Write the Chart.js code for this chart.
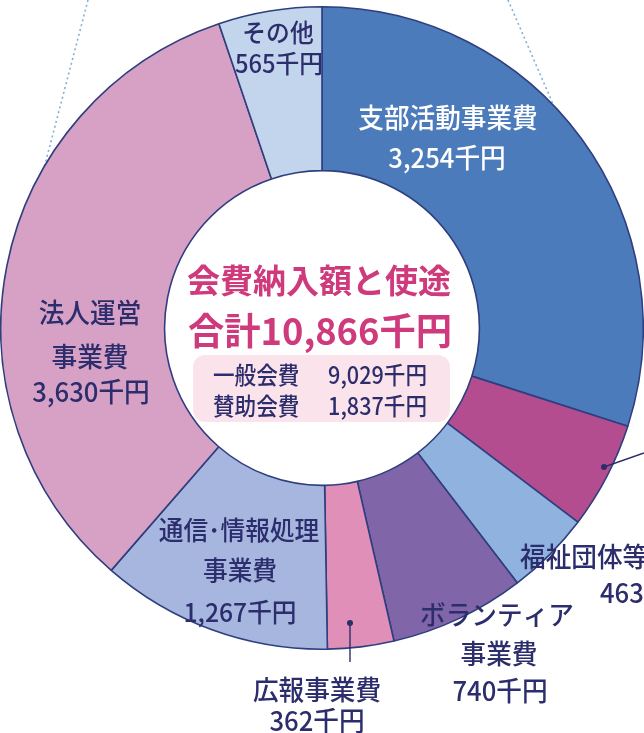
<!DOCTYPE html>
<html lang="ja">
<head>
<meta charset="utf-8">
<script src="https://cdn.jsdelivr.net/npm/chart.js@4"></script>
<style>
  html, body { margin: 0; padding: 0; background: #fff; }
  #wrap { position: relative; width: 644px; height: 733px; }
</style>
</head>
<body>
<div id="wrap">
  <canvas id="usageChart"></canvas>
</div>

<script>
  // slices clockwise from 12 o'clock
  const categories = ['支部活動事業費', '（図外）', '福祉団体等', 'ボランティア事業費', '広報事業費', '通信・情報処理事業費', '法人運営事業費', 'その他'];
  const amounts = [3254, 585, 463, 740, 362, 1267, 3630, 565];
  const sliceColors = ['#4c7bbb', '#b44d8f', '#8fb2de', '#8065a9', '#e08fb9', '#a7b6de', '#d7a1c5', '#c3d5ec'];

  // centre block
  const centerTitle = '会費納入額と使途';
  const totalAmount = 10866;
  const feeNames = ['一般会費', '賛助会費'];
  const feeAmounts = [9029, 1837];

  const yen = v => v.toLocaleString('en-US') + '千円';

  // label lines per slice (null = no label visible), offsets from chart centre
  const labelLines = [
    ['支部活動事業費', '#VAL'],
    null,
    ['福祉団体等', '463千円'],
    ['ボランティア', '事業費', '#VAL'],
    ['広報事業費', '#VAL'],
    ['通信･情報処理', '事業費', '#VAL'],
    ['法人運営', '事業費', '#VAL'],
    ['その他', '#VAL']
  ];
  const labelLayout = [
    { pos: [[126, -210], [125, -170]], size: 27, color: '#ffffff' },
    null,
    { pos: [[198, 229], [278, 265]], size: 27, align: 'left' },
    { pos: [[175, 287], [177, 326], [178, 363]], size: 27 },
    { pos: [[-5, 362], [-5, 393]], size: 27 },
    { pos: [[-83, 202], [-82, 242], [-82, 284]], size: 26 },
    { pos: [[-232, -15], [-232, 29], [-231, 64]], size: 27 },
    { pos: [[-44, -296], [-43, -265]], size: 25 }
  ];

  const navy = '#2c2d6c';
  const pink = '#cf3a7c';
  const FONT = '"Noto Sans CJK JP", "Noto Sans", sans-serif';

  function drawText(ctx, txt, x, y, size, opts) {
    opts = opts || {};
    ctx.save();
    ctx.font = (opts.weight || 500) + ' ' + size + 'px ' + FONT;
    ctx.fillStyle = opts.color || navy;
    ctx.textAlign = opts.align || 'center';
    ctx.textBaseline = 'middle';
    ctx.translate(x, y);
    ctx.scale(opts.sx || 0.95, 1);
    ctx.fillText(txt, 0, 0);
    ctx.restore();
  }

  const decorPlugin = {
    id: 'decor',
    beforeDatasetsDraw(chart) {
      const ctx = chart.ctx;
      // dotted guide lines behind the ring
      ctx.save();
      ctx.strokeStyle = '#7fb0d6';
      ctx.lineWidth = 1.6;
      ctx.setLineDash([2, 3]);
      ctx.beginPath();
      ctx.moveTo(88, 0); ctx.lineTo(43, 172);
      ctx.moveTo(508, 0); ctx.lineTo(553, 104);
      ctx.stroke();
      ctx.restore();
    },
    afterDatasetsDraw(chart) {
      const ctx = chart.ctx;
      const arc = chart.getDatasetMeta(0).data[0];
      const cx = arc.x, cy = arc.y;

      // leader lines
      ctx.save();
      ctx.strokeStyle = navy;
      ctx.fillStyle = navy;
      ctx.lineWidth = 1.4;
      [[[282, 139], [322, 125]], [[28, 295], [28, 334]]].forEach(([a, b]) => {
        ctx.beginPath();
        ctx.moveTo(cx + a[0], cy + a[1]);
        ctx.lineTo(cx + b[0], cy + b[1]);
        ctx.stroke();
        ctx.beginPath();
        ctx.arc(cx + a[0], cy + a[1], 3, 0, Math.PI * 2);
        ctx.fill();
      });
      ctx.restore();

      // slice labels
      labelLines.forEach((lines, i) => {
        if (!lines) return;
        const lay = labelLayout[i];
        lines.forEach((t, j) => {
          const txt = t === '#VAL' ? yen(amounts[i]) : t;
          drawText(ctx, txt, cx + lay.pos[j][0], cy + lay.pos[j][1], lay.size,
            { color: lay.color, align: lay.align });
        });
      });

      // centre texts
      drawText(ctx, centerTitle, cx - 3, cy - 48, 33, { weight: 700, color: pink, sx: 1.0 });
      drawText(ctx, '合計' + yen(totalAmount), cx - 2, cy + 3, 37, { weight: 700, color: pink, sx: 0.98 });

      ctx.save();
      ctx.fillStyle = '#fbe3ec';
      ctx.beginPath();
      ctx.roundRect(cx - 129, cy + 27, 257, 67, 12);
      ctx.fill();
      ctx.restore();

      feeNames.forEach((n, k) => {
        const y = cy + 47 + k * 31;
        drawText(ctx, n, cx - 109, y, 24, { align: 'left', sx: 0.9 });
        drawText(ctx, yen(feeAmounts[k]), cx + 105, y, 24, { align: 'right', sx: 0.9 });
      });
    }
  };

  const ctx = document.getElementById('usageChart').getContext('2d');
  const chart = new Chart(ctx, {
    type: 'doughnut',
    data: {
      labels: categories,
      datasets: [{
        data: amounts,
        backgroundColor: sliceColors,
        borderColor: '#2f3f7e',
        borderWidth: 1.6
      }]
    },
    options: {
      responsive: true,
      maintainAspectRatio: false,
      animation: false,
      cutout: '49%',
      layout: { padding: { top: 6, bottom: 83, left: 0, right: 0 } },
      plugins: {
        legend: { display: false },
        tooltip: { enabled: false }
      },
      events: []
    },
    plugins: [decorPlugin]
  });
</script>
</body>
</html>
